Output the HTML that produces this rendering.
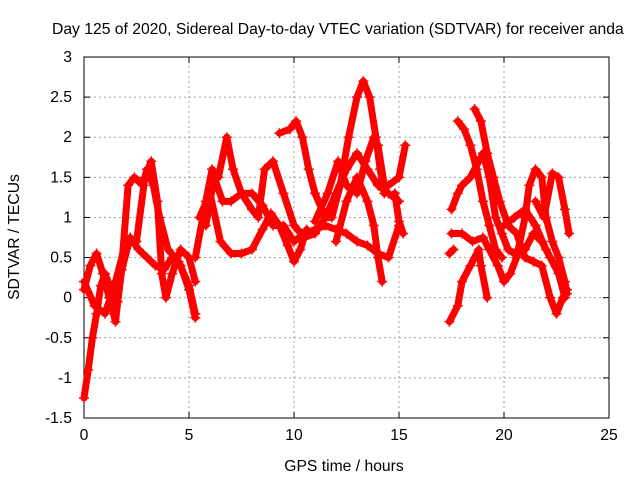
<!DOCTYPE html>
<html><head><meta charset="utf-8"><style>
body{margin:0;background:#fff}
svg{display:block;font-family:"Liberation Sans",sans-serif;font-size:15.7px}
</style></head><body>
<svg id="chart" width="640" height="480">
<text x="52" y="34" text-anchor="start">Day 125 of 2020, Sidereal Day-to-day VTEC variation (SDTVAR) for receiver anda</text>
<g id="grid"></g>
<g id="axes"></g>
<g id="series"></g>
<text x="344" y="471" text-anchor="middle">GPS time / hours</text>
<text transform="translate(19,237) rotate(-90)" text-anchor="middle">SDTVAR / TECUs</text>
</svg>
<script>
const xTicks=[0,5,10,15,20,25];
const yTicks=[-1.5,-1,-0.5,0,0.5,1,1.5,2,2.5,3];
const s1=[[0,-1.25],[0.2,-0.9],[0.4,-0.5],[0.6,-0.2],[0.8,0.15],[1.0,0.3],[1.3,0.1],[1.6,-0.05],[1.8,0.35],[2.2,0.75],[2.6,0.6],[3.0,0.5],[3.4,0.4],[3.8,0.35],[4.2,0.5],[4.6,0.4],[5.0,0.1],[5.3,-0.25]];
const s2=[[0,0.1],[0.3,0.4],[0.6,0.55],[0.9,0.3],[1.2,0.0],[1.5,-0.3],[1.8,0.4],[2.1,1.4],[2.4,1.5],[2.8,1.4],[3.0,1.6],[3.3,1.4],[3.6,1.0],[4.0,0.6],[4.5,0.45],[5.0,0.15],[5.3,-0.2]];
const s3=[[0,0.2],[0.5,-0.1],[1,-0.2],[1.5,0.2],[2,0.7],[2.5,0.7],[2.9,1.5],[3.2,1.7],[3.5,1.2],[3.7,0.3],[3.9,0.0],[4.2,0.3],[4.6,0.6],[5.0,0.5],[5.3,0.2]];
const s4=[[5.3,0.5],[5.8,1.2],[6.1,1.6],[6.4,1.5],[6.8,2.0],[7.1,1.6],[7.5,1.3],[8.0,1.1],[8.3,1.0],[8.6,1.6],[9.0,1.7],[9.5,1.3],[10,0.9],[10.5,0.75],[11,0.8],[11.5,1.0],[12,1.3],[12.5,1.6],[13,1.8],[13.5,1.6],[14,1.4],[14.5,1.3],[15,1.2]];
const s5=[[5.8,0.9],[6.2,1.5],[6.6,1.2],[7.0,1.2],[7.5,1.3],[8.0,1.3],[8.5,1.15],[9.0,0.9],[9.5,0.9],[10,0.7],[10.5,0.8],[11,0.85],[11.5,0.9],[12,0.85],[12.5,0.8],[13,0.7],[13.5,0.65],[14,0.55],[14.5,0.5],[15,0.9]];
const s6=[[5.5,1.0],[6,1.3],[6.5,0.7],[7,0.55],[7.5,0.55],[8,0.6],[8.5,0.85],[8.9,1.05],[9.3,0.9],[9.7,0.65],[10,0.45],[10.3,0.6],[10.6,0.85]];
const s7=[[9.3,2.05],[9.8,2.1],[10.1,2.2],[10.4,2.0],[10.7,1.6],[11,1.3],[11.5,1.0],[11.8,1.0],[12.2,1.4],[12.6,2.0],[13.0,2.5],[13.3,2.7],[13.6,2.5],[13.9,2.0],[14.1,1.6],[14.3,1.3]];
const s8=[[11,0.95],[11.6,1.3],[12.1,1.7],[12.5,1.4],[13,1.3],[13.4,1.7],[13.8,2.0],[14.0,1.9],[14.3,1.4],[14.5,1.4],[15,1.5],[15.3,1.9]];
const s9=[[12,0.7],[12.5,1.2],[13,1.5],[13.5,1.2],[13.8,0.9],[14.0,0.5],[14.2,0.2]];
const s10=[[14.8,1.3],[15,0.95],[15.2,0.8]];
const s11=[[17.5,1.1],[17.8,1.3],[18.0,1.4],[18.4,1.5],[18.8,1.7],[19.0,1.8],[19.3,1.5],[19.6,1.0],[19.9,0.8],[20.2,0.6],[20.5,0.55],[21,0.6],[21.4,0.8],[21.8,0.7],[22.2,0.5],[22.6,0.3],[22.9,0.0]];
const s12=[[17.8,2.2],[18.1,2.1],[18.4,1.9],[18.7,1.6],[19.0,1.2],[19.3,0.9],[19.6,0.6],[19.9,0.5]];
const s13=[[18.6,2.35],[18.9,2.2],[19.2,1.8],[19.5,1.5],[19.8,1.2],[20.2,0.9],[20.6,0.8],[21,0.5],[21.4,0.45],[21.8,0.4],[22.2,0.0],[22.5,-0.2],[22.8,0.0],[23,0.1]];
const s14=[[17.5,0.8],[18,0.8],[18.5,0.7],[19,0.75],[19.3,0.6],[19.7,0.4],[20,0.2],[20.3,0.3],[20.6,0.5],[21.0,1.0],[21.2,1.4],[21.5,1.6],[21.8,1.5],[22.0,1.0],[22.3,0.7],[22.6,0.5],[22.9,0.2],[23,0.05]];
const s15=[[17.4,-0.3],[17.8,-0.1],[18.0,0.2],[18.4,0.4],[18.8,0.6],[18.9,0.4],[19.2,0.0]];
const s16=[[21.5,1.2],[21.9,1.0],[22.3,1.55],[22.6,1.5],[22.9,1.1],[23.1,0.8]];
const s17=[[20,0.9],[20.5,1.0],[21,1.1],[21.5,0.9],[22,0.6]];
const s18=[[17.4,0.55],[17.6,0.6]];
const allSeries=[s1,s2,s3,s4,s5,s6,s7,s8,s9,s10,s11,s12,s13,s14,s15,s16,s17,s18];

const X0=84,X1=609,Y0=418,Y1=57;
const sx=h=>X0+(h-0)/25*(X1-X0);
const sy=v=>Y0-(v+1.5)/4.5*(Y0-Y1);
const NS="http://www.w3.org/2000/svg";
function mk(tag,attrs,parent){const e=document.createElementNS(NS,tag);for(const k in attrs)e.setAttribute(k,attrs[k]);parent.appendChild(e);return e;}
const grid=document.getElementById('grid'),axes=document.getElementById('axes'),ser=document.getElementById('series');
yTicks.forEach(t=>{const y=sy(t);
 if(t>-1.5&&t<3){const l=mk('line',{x1:X0,x2:X1,y1:y,y2:y,stroke:'#a0a0a0','stroke-dasharray':'2,3'},grid);
 
 }
 mk('line',{x1:X0,x2:X0+6,y1:y,y2:y,stroke:'#000'},axes);
 mk('line',{x1:X1,x2:X1-6,y1:y,y2:y,stroke:'#000'},axes);
 const tx=mk('text',{x:X0-12,y:y+5,'text-anchor':'end'},axes);tx.textContent=t;
 
 
});
xTicks.forEach(t=>{const x=sx(t);
 if(t>0&&t<25){const l=mk('line',{x1:x,x2:x,y1:Y0,y2:Y1,stroke:'#a0a0a0','stroke-dasharray':'2,3'},grid);
 
 }
 mk('line',{x1:x,x2:x,y1:Y0,y2:Y0-6,stroke:'#000'},axes);
 mk('line',{x1:x,x2:x,y1:Y1,y2:Y1+6,stroke:'#000'},axes);
 const tx=mk('text',{x:x,y:Y0+22,'text-anchor':'middle'},axes);tx.textContent=t;
 
 
});
mk('rect',{x:X0,y:Y1,width:X1-X0,height:Y0-Y1,fill:'none',stroke:'#000'},axes);
allSeries.forEach((s,i)=>{
 const p=mk('polyline',{points:s.map(d=>sx(d[0])+','+sy(d[1])).join(' '),fill:'none',stroke:'#f00','stroke-width':7,'stroke-linejoin':'round','stroke-linecap':'round'},ser);
 
 
 s.forEach(d=>{const x=sx(d[0]),y=sy(d[1]);
  const m=mk('path',{d:`M${x-5},${y}H${x+5}M${x},${y-5}V${y+5}`,stroke:'#f00','stroke-width':1.5},ser);
  
  
 });
});
</script>
</body></html>
